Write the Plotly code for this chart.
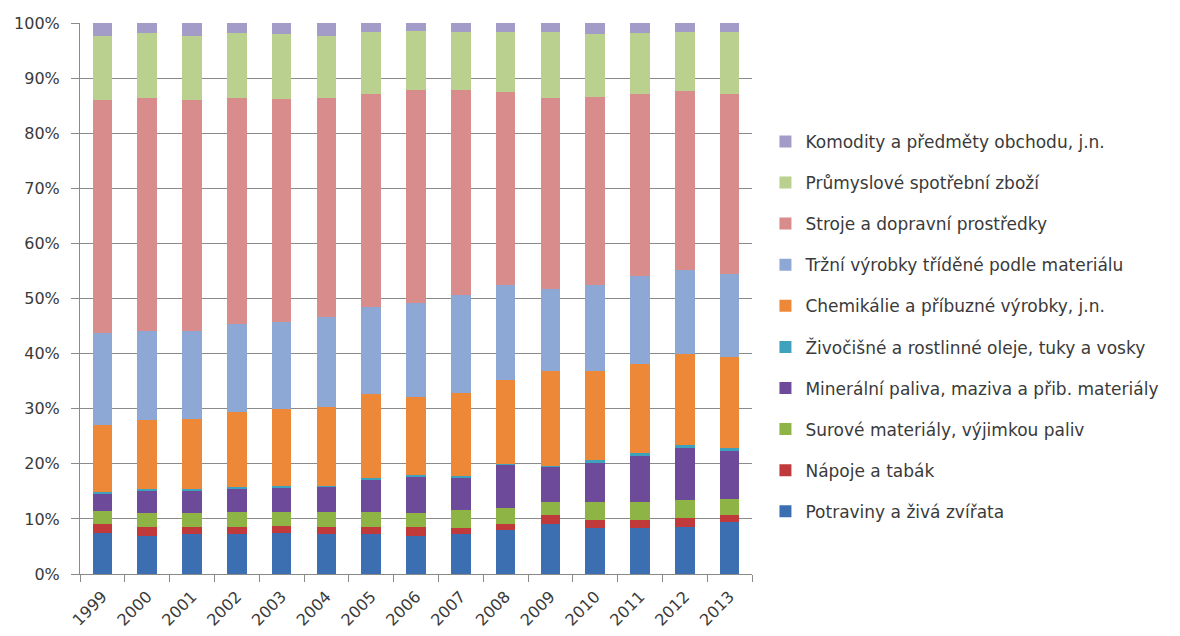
import plotly.graph_objects as go

years = [str(y) for y in range(1999, 2014)]

# Share of each commodity group (percent of total), stacked bottom to top
potraviny = [7.5, 6.9, 7.2, 7.2, 7.5, 7.2, 7.2, 6.9, 7.2, 7.9, 9.0, 8.4, 8.4, 8.6, 9.5]
napoje = [1.6, 1.6, 1.3, 1.3, 1.3, 1.4, 1.3, 1.6, 1.1, 1.2, 1.7, 1.4, 1.4, 1.5, 1.2]
surove = [2.4, 2.5, 2.5, 2.8, 2.5, 2.7, 2.8, 2.5, 3.4, 2.8, 2.4, 3.3, 3.3, 3.3, 2.9]
mineralni = [3.1, 4.1, 4.1, 4.2, 4.4, 4.5, 5.9, 6.7, 5.9, 7.9, 6.4, 7.2, 8.3, 9.5, 8.8]
zivocisne = [0.3, 0.3, 0.3, 0.2, 0.3, 0.2, 0.2, 0.3, 0.2, 0.2, 0.2, 0.3, 0.5, 0.6, 0.4]
chemikalie = [12.1, 12.5, 12.8, 13.7, 14.0, 14.3, 15.2, 14.2, 15.1, 15.3, 17.1, 16.3, 16.2, 16.5, 16.5]
trzni = [16.7, 16.2, 15.9, 15.9, 15.8, 16.4, 15.9, 17.0, 17.8, 17.1, 15.0, 15.6, 16.0, 15.1, 15.2]
stroje = [42.3, 42.3, 42.0, 41.1, 40.4, 39.7, 38.7, 38.7, 37.1, 35.1, 34.7, 34.1, 33.1, 32.6, 32.7]
prumyslove = [11.7, 11.7, 11.6, 11.7, 11.8, 11.3, 11.1, 10.7, 10.6, 10.8, 11.9, 11.4, 11.0, 10.6, 11.2]
komodity = [2.3, 1.9, 2.3, 1.9, 2.0, 2.3, 1.7, 1.4, 1.6, 1.7, 1.7, 2.0, 1.8, 1.7, 1.6]

series = [
    ("Potraviny a živá zvířata", potraviny, "#3B6FB2"),
    ("Nápoje a tabák", napoje, "#C03A3C"),
    ("Surové materiály, výjimkou paliv", surove, "#8DB445"),
    ("Minerální paliva, maziva a přib. materiály", mineralni, "#6E4A9A"),
    ("Živočišné a rostlinné oleje, tuky a vosky", zivocisne, "#3FA2BD"),
    ("Chemikálie a příbuzné výrobky, j.n.", chemikalie, "#EC8838"),
    ("Tržní výrobky tříděné podle materiálu", trzni, "#8EA8D6"),
    ("Stroje a dopravní prostředky", stroje, "#D88C8B"),
    ("Průmyslové spotřební zboží", prumyslove, "#B9D08F"),
    ("Komodity a předměty obchodu, j.n.", komodity, "#A39CC8"),
]

fig = go.Figure()
n = len(series)
for i, (name, vals, color) in enumerate(series):
    fig.add_trace(go.Bar(
        x=years, y=vals, name=name, legendgroup=f"g{i}",
        legendrank=100 + (n - i),
        marker=dict(color=color, line=dict(width=0)),
    ))

font_family = "DejaVu Sans, Verdana, sans-serif"
grid = "#8a8a8a"
text_color = "#3a3a3a"

fig.update_layout(
    width=1180, height=636,
    barmode="stack", barnorm="percent", bargap=0.565,
    paper_bgcolor="white", plot_bgcolor="white",
    margin=dict(l=80, r=428, t=23, b=62),
    font=dict(family=font_family, size=16, color=text_color),
    showlegend=True,
    legend=dict(
        x=1.02, xanchor="left", y=0.817, yanchor="top",
        traceorder="grouped", tracegroupgap=16,
        font=dict(size=17, color=text_color),
        itemwidth=30,
    ),
    xaxis=dict(
        type="category", tickangle=-45, tickson="boundaries",
        ticks="outside", ticklen=7, tickcolor=grid,
        ticklabelstandoff=6, automargin=False,
        showline=True, linecolor=grid, linewidth=1,
        showgrid=False, tickfont=dict(size=16),
    ),
    yaxis=dict(
        range=[0, 100], dtick=10, ticksuffix="%",
        ticks="outside", ticklen=8, tickcolor=grid,
        ticklabelstandoff=8, automargin=False,
        showline=True, linecolor=grid, linewidth=1,
        showgrid=True, gridcolor=grid, gridwidth=1,
        zeroline=False, tickfont=dict(size=16),
    ),
)

fig.write_html("out.html")
